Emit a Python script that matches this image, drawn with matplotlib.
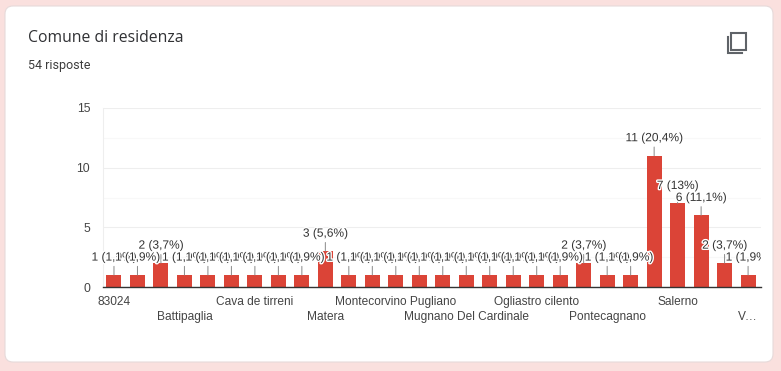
import matplotlib
matplotlib.use('Agg')
import matplotlib.pyplot as plt
import matplotlib.patheffects as pe
from matplotlib.patches import FancyBboxPatch, Rectangle
from matplotlib.transforms import Bbox, TransformedBbox

# data
values = [1, 1, 2, 1, 1, 1, 1, 1, 1, 3, 1, 1, 1, 1, 1, 1, 1, 1, 1, 1, 2, 1, 1, 11, 7, 6, 2, 1]
bar_labels = ['1 (1,9%)', '1 (1,9%)', '2 (3,7%)', '1 (1,9%)', '1 (1,9%)', '1 (1,9%)', '1 (1,9%)',
              '1 (1,9%)', '1 (1,9%)', '3 (5,6%)', '1 (1,9%)', '1 (1,9%)', '1 (1,9%)', '1 (1,9%)',
              '1 (1,9%)', '1 (1,9%)', '1 (1,9%)', '1 (1,9%)', '1 (1,9%)', '1 (1,9%)', '2 (3,7%)',
              '1 (1,9%)', '1 (1,9%)', '11 (20,4%)', '7 (13%)', '6 (11,1%)', '2 (3,7%)', '1 (1,9%)']
tick_pos = [0, 3, 6, 9, 12, 15, 18, 21, 24, 27]
tick_names = ['83024', 'Battipaglia', 'Cava de tirreni', 'Matera', 'Montecorvino Pugliano',
              'Mugnano Del Cardinale', 'Ogliastro cilento', 'Pontecagnano', 'Salerno', 'V…']
y_ticks = [0, 5, 10, 15]
y_minor = [2.5, 7.5, 12.5]

W, H = 781, 371
fig = plt.figure(figsize=(W / 100, H / 100), dpi=100)
fig.patch.set_facecolor('#fae0de')

# card + header, drawn in pixel coordinates
bg = fig.add_axes([0, 0, 1, 1])
bg.set_xlim(0, W)
bg.set_ylim(H, 0)
bg.axis('off')
bg.add_patch(FancyBboxPatch((5, 6), 768, 356, boxstyle='round,pad=0,rounding_size=8',
                            fc='white', ec='#e6dada', lw=0.8))
bg.text(28, 38, 'Comune di residenza', family='Open Sans', fontsize=11.3, color='#303134', va='center')
bg.text(28, 65, '54 risposte', family='Roboto', fontsize=9, color='#3c3c3c', va='center')
# copy icon
bg.add_patch(Rectangle((731, 33), 15, 17, fc='none', ec='#5f6368', lw=1.5))
bg.plot([728, 728, 742], [37, 53, 53], color='#5f6368', lw=1.5, solid_joinstyle='miter')

# chart
ax = fig.add_axes([102.7 / W, 1 - 287 / H, (761 - 102.7) / W, (287 - 108) / H])
ax.patch.set_alpha(0)
ax.set_xlim(-0.48, 27.55)
ax.set_ylim(0, 15)
x = list(range(len(values)))
ax.bar(x, values, width=0.64, color='#db4437', zorder=3)

ax.set_yticks(y_ticks)
ax.set_yticks(y_minor, minor=True)
ax.grid(axis='y', which='major', color='#eeeeee', lw=0.8, zorder=0)
ax.grid(axis='y', which='minor', color='#f8f8f8', lw=0.8, zorder=0)
ax.tick_params(axis='y', which='both', length=0)
ax.tick_params(axis='y', pad=9, labelsize=8.8, labelcolor='#444444')
for lab in ax.get_yticklabels():
    lab.set_family('Liberation Sans')

ax.set_xticks(tick_pos)
ax.set_xticklabels(tick_names, family='Liberation Sans', fontsize=8.6, color='#444444')
ax.tick_params(axis='x', length=0)
# names alternate between two rows
for i, tick in enumerate(ax.xaxis.get_major_ticks()):
    tick.set_pad(6.2 if i % 2 == 0 else 17.5)

for s in ['top', 'right']:
    ax.spines[s].set_visible(False)
ax.spines['left'].set_color('#eeeeee')
ax.spines['left'].set_linewidth(0.8)
ax.spines['bottom'].set_color('#333333')
ax.spines['bottom'].set_linewidth(1)
ax.spines['bottom'].set_zorder(5)

# labels stack in order, each halo covers what is under it
clip = TransformedBbox(Bbox([[-3, -1], [27.55, 16]]), ax.transData)
for xi, v, t in zip(x, values, bar_labels):
    a = ax.annotate(t, xy=(xi, v), xytext=(0, 12.6), textcoords='offset points',
                    ha='center', va='center', family='Liberation Sans', fontsize=8.6,
                    color='#333333', zorder=6, annotation_clip=False,
                    arrowprops=dict(arrowstyle='-', color='#888888', lw=0.7, shrinkA=0, shrinkB=0),
                    path_effects=[pe.withStroke(linewidth=2, foreground='white')])
    a.set_clip_on(True)
    a.set_clip_box(clip)

fig.savefig('out.png', dpi=100, facecolor=fig.get_facecolor())
